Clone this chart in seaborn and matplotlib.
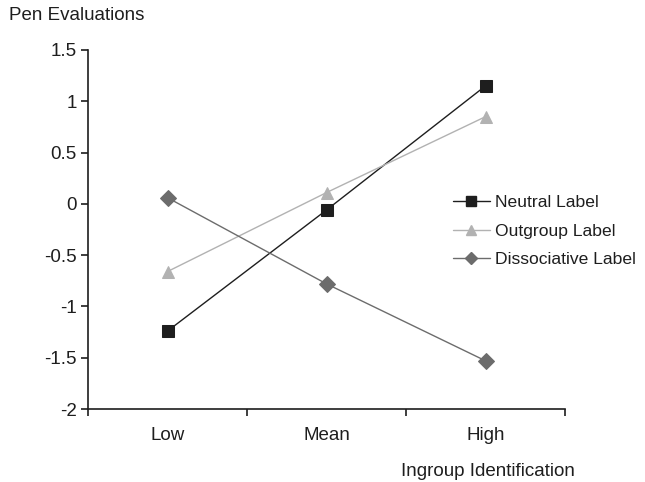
import matplotlib
matplotlib.use("Agg")
import matplotlib.pyplot as plt
import seaborn as sns
import pandas as pd
from matplotlib.ticker import FixedLocator, NullFormatter
from matplotlib.lines import Line2D

categories = ["Low", "Mean", "High"]
series_names = ["Neutral Label", "Outgroup Label", "Dissociative Label"]
neutral = [-1.24, -0.06, 1.15]
outgroup = [-0.66, 0.11, 0.85]
dissociative = [0.06, -0.78, -1.53]
y_ticks = [-2, -1.5, -1, -0.5, 0, 0.5, 1, 1.5]
y_tick_labels = ["-2", "-1.5", "-1", "-0.5", "0", "0.5", "1", "1.5"]

rows = []
for name, vals in zip(series_names, [neutral, outgroup, dissociative]):
    for c, v in zip(categories, vals):
        rows.append({"Identification": c, "Value": v, "Series": name})
df = pd.DataFrame(rows)

sns.set_style("white")
plt.rcParams["font.family"] = ["Liberation Sans", "DejaVu Sans"]
FS = 13.5
LFS = 12.6
TXT = "#1e1e1e"

fig = plt.figure(figsize=(6.45, 4.82), dpi=100)
ax = fig.add_axes([88/645, 1-409/482, (565-88)/645, (409-50)/482])

palette = {"Neutral Label": "#1e1e1e", "Outgroup Label": "#b2b2b2", "Dissociative Label": "#6c6c6c"}
sns.pointplot(data=df, x="Identification", y="Value", hue="Series", order=categories,
              hue_order=series_names, palette=palette, markers=["s", "^", "D"],
              linestyles=["-", "-", "-"], ax=ax, errorbar=None,
              markersize=8.5, linewidth=1.0, legend=False)

handles = [
    Line2D([], [], color=palette["Neutral Label"], marker="s", markersize=7, lw=1.0),
    Line2D([], [], color=palette["Outgroup Label"], marker="^", markersize=7.5, lw=1.0),
    Line2D([], [], color=palette["Dissociative Label"], marker="D", markersize=6, lw=1.0),
]
leg = ax.legend(handles, series_names, loc="center left", bbox_to_anchor=(446/645, 1-231/482),
          bbox_transform=fig.transFigure, frameon=False, fontsize=LFS,
          handlelength=2.1, handletextpad=0.3, labelspacing=0.75, borderaxespad=0)
for t in leg.get_texts():
    t.set_color(TXT)

ax.set_xlim(-0.5, 2.5)
ax.set_ylim(-2, 1.5)
ax.set_yticks(y_ticks)
ax.set_yticklabels(y_tick_labels)
ax.xaxis.set_major_locator(FixedLocator([-0.5, 0.5, 1.5, 2.5]))
ax.xaxis.set_major_formatter(NullFormatter())
ax.xaxis.set_minor_locator(FixedLocator([0, 1, 2]))
ax.set_xticklabels(categories, minor=True)
ax.tick_params(axis="x", which="minor", length=0, pad=13, labelsize=FS, labelcolor=TXT)
ax.tick_params(axis="x", which="major", length=5, width=1.2, direction="out", bottom=True, color=TXT)
ax.tick_params(axis="y", length=5, width=1.2, direction="out", left=True, labelsize=FS, pad=3,
               color=TXT, labelcolor=TXT)
for s in ["top", "right"]:
    ax.spines[s].set_visible(False)
for s in ["left", "bottom"]:
    ax.spines[s].set_color(TXT)
    ax.spines[s].set_linewidth(1.2)
ax.set_xlabel("")
ax.set_ylabel("")
ax.grid(False)

fig.text(9/645, 1-15/482, "Pen Evaluations", fontsize=FS, va="center", ha="left", color=TXT)
fig.text(575/645, 1-471/482, "Ingroup Identification", fontsize=FS, va="center", ha="right", color=TXT)

fig.savefig("out.png", dpi=100)
